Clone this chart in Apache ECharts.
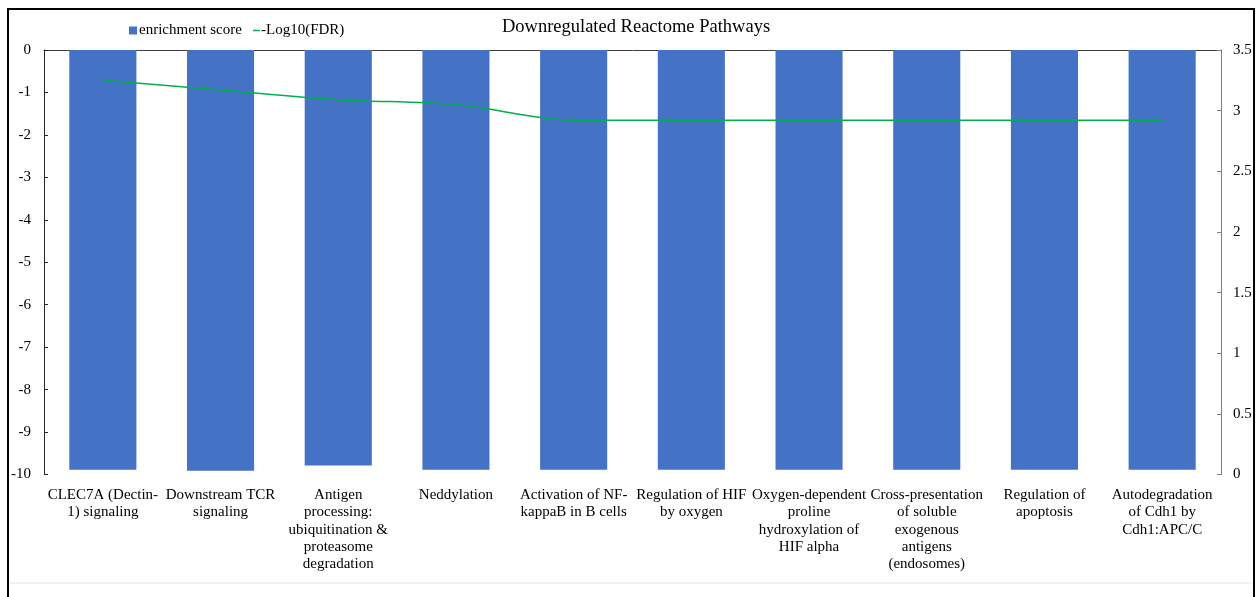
<!DOCTYPE html>
<html>
<head>
<meta charset="utf-8">
<script src="https://cdn.jsdelivr.net/npm/echarts@6/dist/echarts.min.js"></script>
<style>
html,body{margin:0;padding:0;background:#fff;}
#c{width:1256px;height:597px;}
</style>
</head>
<body>
<div id="c"></div>
<script>
const categories = [
  "CLEC7A (Dectin-\n1) signaling",
  "Downstream TCR\nsignaling",
  "Antigen\nprocessing:\nubiquitination &\nproteasome\ndegradation",
  "Neddylation",
  "Activation of NF-\nkappaB in B cells",
  "Regulation of HIF\nby oxygen",
  "Oxygen-dependent\nproline\nhydroxylation of\nHIF alpha",
  "Cross-presentation\nof soluble\nexogenous\nantigens\n(endosomes)",
  "Regulation of\napoptosis",
  "Autodegradation\nof Cdh1 by\nCdh1:APC/C"
];
const enrichmentScore = [-9.89, -9.91, -9.79, -9.89, -9.89, -9.89, -9.89, -9.89, -9.89, -9.89];
const log10FDR = [3.25, 3.17, 3.09, 3.05, 2.92, 2.92, 2.92, 2.92, 2.92, 2.92];
const leftTicks = [0, -1, -2, -3, -4, -5, -6, -7, -8, -9, -10];
const rightTicks = [0, 0.5, 1, 1.5, 2, 2.5, 3, 3.5];

const FONT = "'Liberation Serif', 'Times New Roman', serif";
const chart = echarts.init(document.getElementById('c'), null, {renderer: 'canvas'});
chart.setOption({
  animation: false,
  backgroundColor: '#fff',
  textStyle: {fontFamily: FONT},
  title: {
    text: 'Downregulated Reactome Pathways',
    left: 631, top: 13, textAlign: 'center',
    textStyle: {fontFamily: FONT, fontSize: 18.5, fontWeight: 'normal', color: '#000'}
  },
  legend: [
    {
      data: [{name: 'enrichment score', icon: 'rect'}],
      left: 124, top: 18, itemWidth: 8, itemHeight: 8, itemGap: 0,
      textStyle: {fontFamily: FONT, fontSize: 15, color: '#000', padding: [0,0,0,-3]}
    },
    {
      data: [{name: '-Log10(FDR)', icon: 'rect'}],
      left: 248, top: 18, itemWidth: 7, itemHeight: 1.5, itemGap: 0,
      textStyle: {fontFamily: FONT, fontSize: 15, color: '#000', padding: [0,0,0,-4]}
    }
  ],
  grid: {left: 44, right: 35, top: 50, height: 424.5, containLabel: false},
  xAxis: [
    {
      type: 'category', data: categories, position: 'top',
      axisLine: {show: true, onZero: false, lineStyle: {color: '#404040', width: 1}},
      axisTick: {show: false}, axisLabel: {show: false}, splitLine: {show: false}
    },
    {
      type: 'category', data: categories, position: 'bottom',
      axisLine: {show: false}, axisTick: {show: false}, splitLine: {show: false},
      axisLabel: {interval: 0, margin: 12, fontFamily: FONT, fontSize: 15, color: '#000', lineHeight: 17.3, hideOverlap: false}
    }
  ],
  yAxis: [
    {
      type: 'value', min: -10, max: 0, interval: 1, position: 'left',
      axisLine: {show: true, lineStyle: {color: '#262626', width: 1}},
      axisTick: {show: true, inside: true, length: 4, lineStyle: {color: '#262626'}},
      axisLabel: {margin: 13, fontFamily: FONT, fontSize: 15, color: '#000',
        formatter: v => leftTicks.includes(v) ? String(v) : ''},
      splitLine: {show: false}
    },
    {
      type: 'value', min: 0, max: 3.5, interval: 0.5, position: 'right',
      axisLine: {show: true, lineStyle: {color: '#808080', width: 1}},
      axisTick: {show: true, inside: true, length: 4, lineStyle: {color: '#808080'}},
      axisLabel: {margin: 12, fontFamily: FONT, fontSize: 15, color: '#000',
        formatter: v => rightTicks.includes(v) ? String(v) : ''},
      splitLine: {show: false}
    }
  ],
  series: [
    {
      name: 'enrichment score', type: 'bar', xAxisIndex: 0, yAxisIndex: 0,
      data: enrichmentScore, barCategoryGap: '43%',
      itemStyle: {color: '#4472C4'}
    },
    {
      name: '-Log10(FDR)', type: 'line', xAxisIndex: 0, yAxisIndex: 1,
      data: log10FDR, smooth: 0.3, showSymbol: false, symbol: 'none',
      itemStyle: {color: '#00B050'},
      lineStyle: {color: '#00B050', width: 1.5}
    }
  ],
  graphic: [
    {type: 'rect', shape: {x: 8, y: 9, width: 1246, height: 640}, style: {fill: 'none', stroke: '#000', lineWidth: 2}, silent: true},
    {type: 'line', shape: {x1: 10, y1: 583, x2: 1252, y2: 583}, style: {stroke: '#e3e3e3', lineWidth: 1}, silent: true}
  ]
});
</script>
</body>
</html>
